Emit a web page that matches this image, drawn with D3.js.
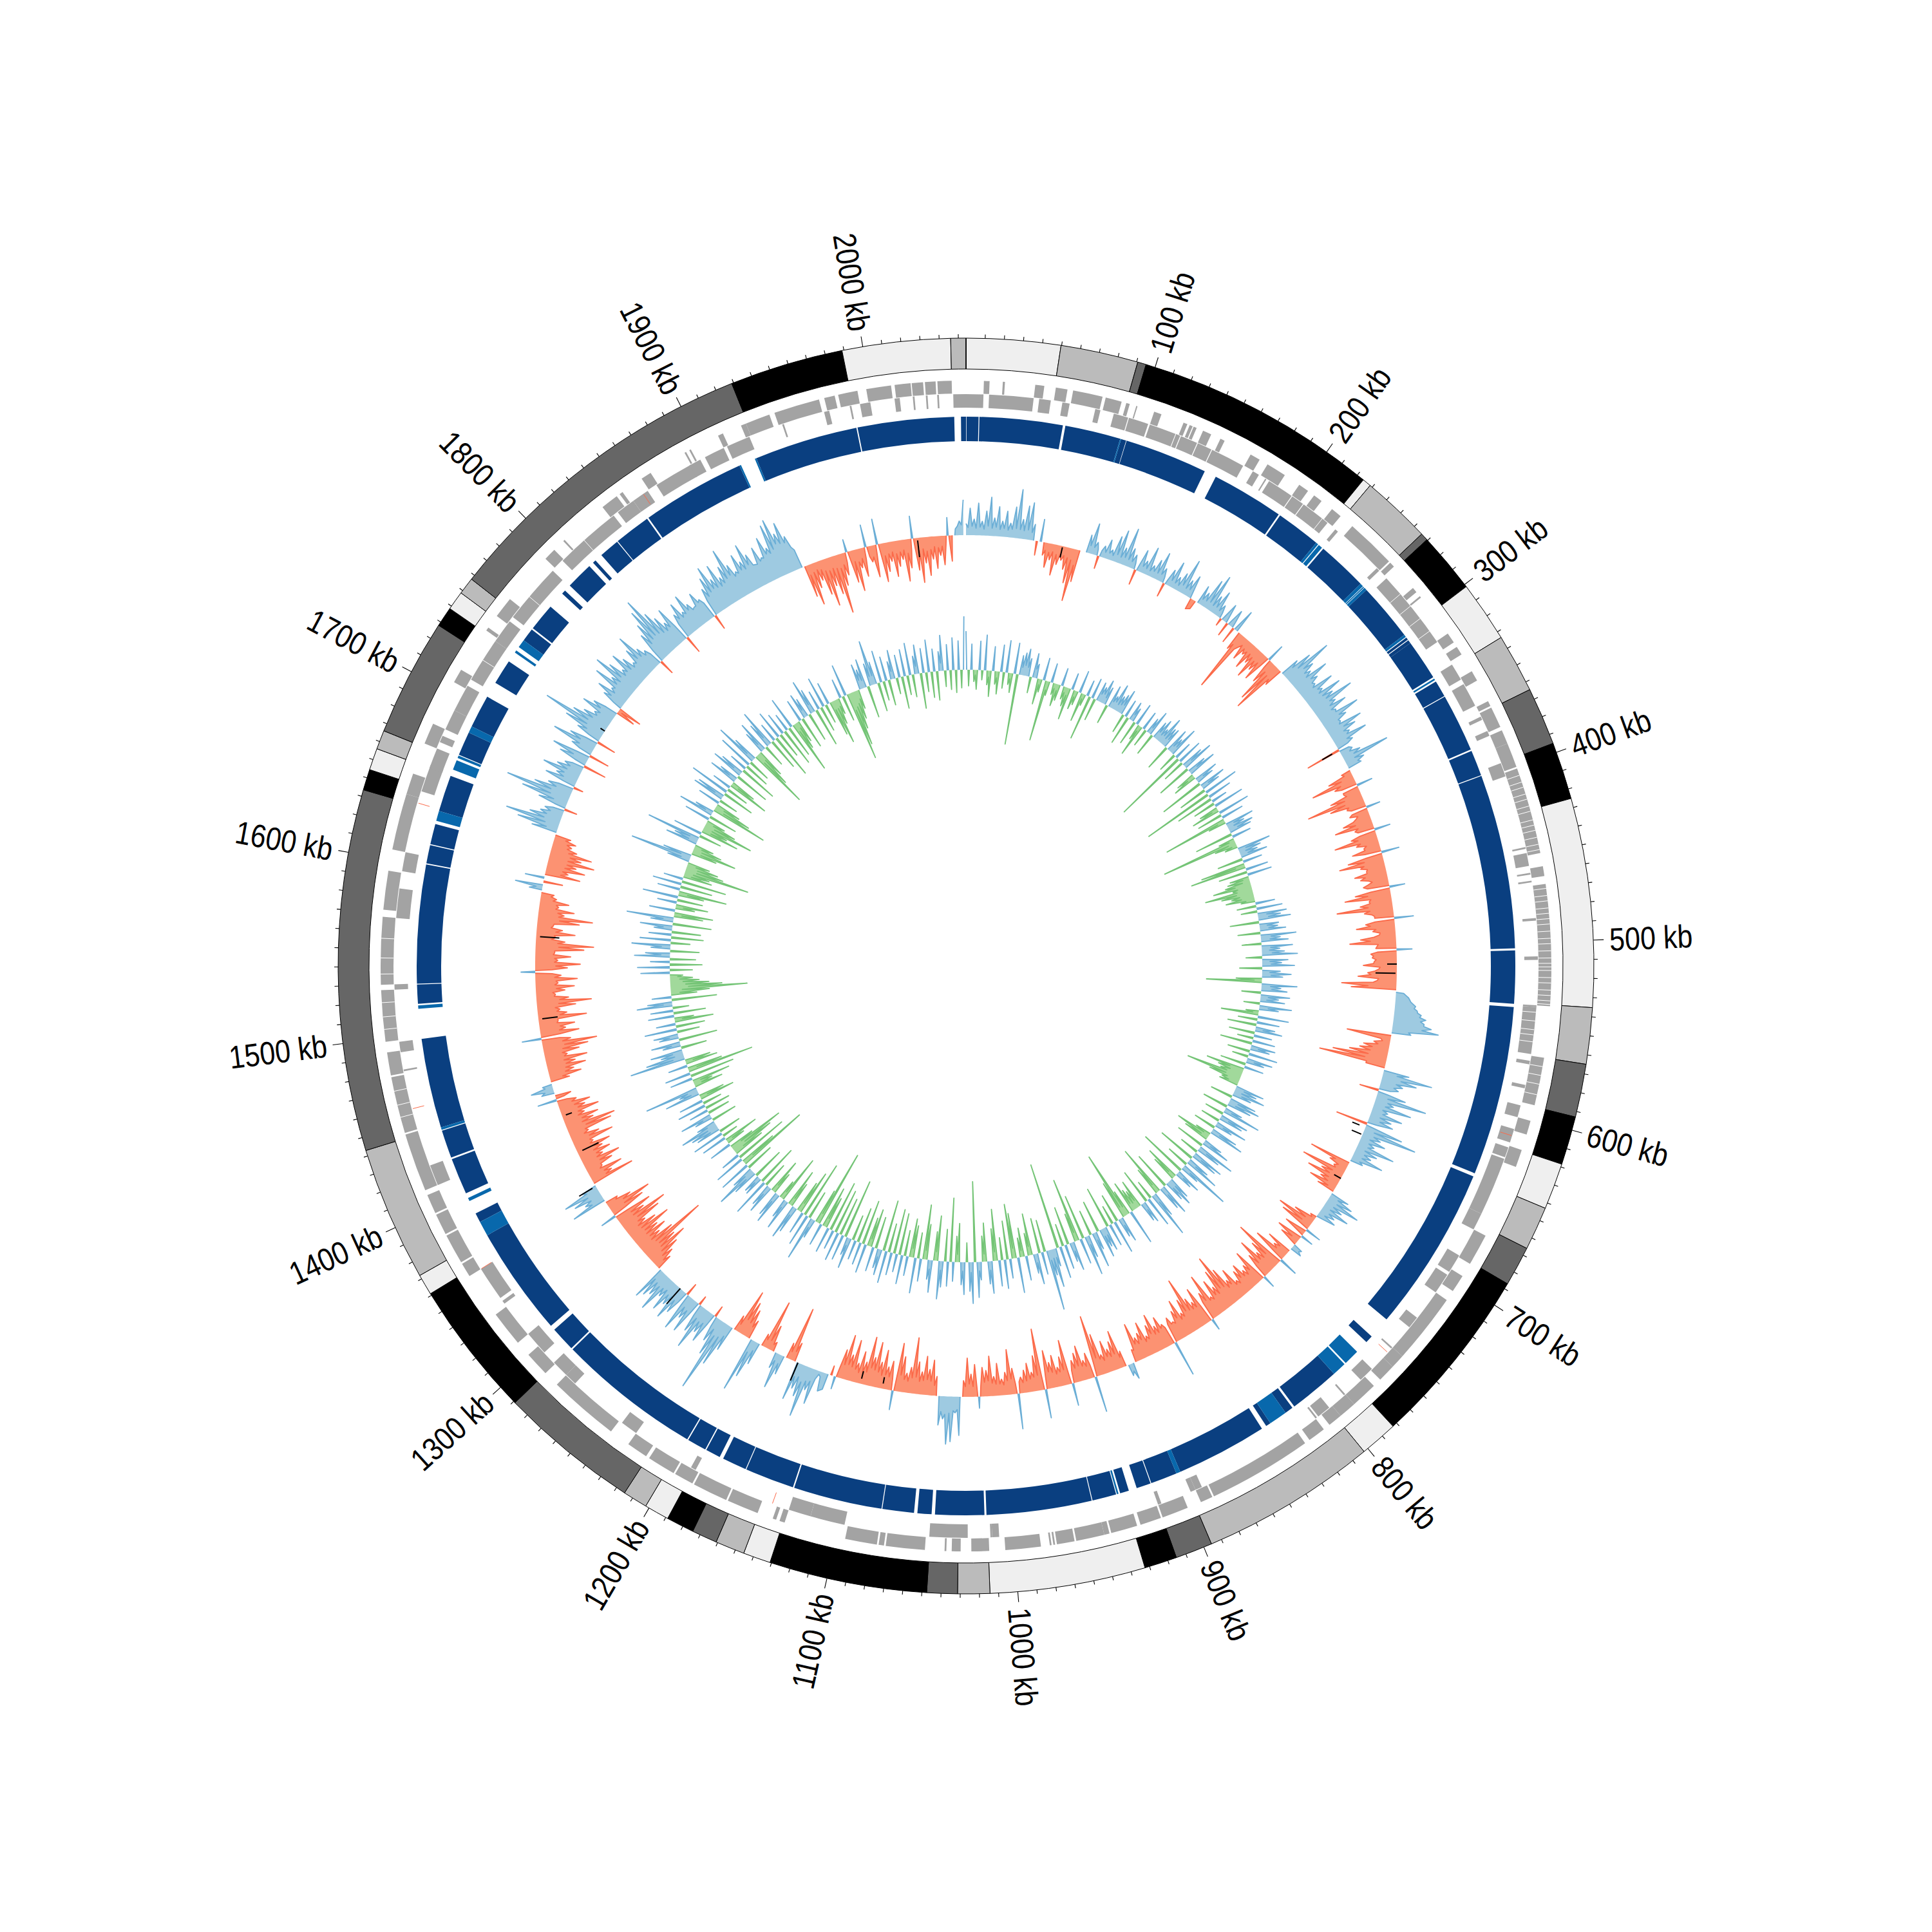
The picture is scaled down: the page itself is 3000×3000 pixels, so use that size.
<!DOCTYPE html>
<html><head><meta charset="utf-8">
<script src="https://cdn.jsdelivr.net/npm/d3@7"></script>
<style>html,body{margin:0;background:#fff}svg{display:block}</style></head>
<body><div id="c"></div>
<script>
const genomeKb = 2054;
const tickLabels = [100,200,300,400,500,600,700,800,900,1000,1100,1200,1300,1400,1500,1600,1700,1800,1900,2000];
// outer ideogram: band ends (kb), shades cycle through the band colours
const bandEnds = [49.7,90.6,95.1,224,228.6,265.5,269.5,301.4,333.5,364.5,395,425.2,535.2,564.9,592.9,618.5,643,666,687,782.5,802.5,895.7,915.3,932.5,1014.5,1031.4,1047.5,1130.8,1145.3,1160.8,1174.2,1188.9,1202,1215,1289,1361,1372,1443,1633.5,1644.5,1656,1666,1728,1738.5,1748.5,1757.5,1929,1989,2046,2054];
const bandShades = ["#efefef","#bbbbbb","#666666","#000000"];
const geneOuter = [[10,13.2],[20.6,21.8],[38.8,43.9],[50.4,57],[60.2,77],[78.8,88],[90.7,92.7],[96.5,97.2],[107,111.3],[124.5,126.8],[128.2,130],[130.6,132.4],[136.3,141.3],[147,149.6],[166,171.8],[176.9,188.3],[198,204],[208.2,213.4],[220.8,227],[235.6,264],[265,268],[284,287],[290,291],[316,322],[325,330],[341,347],[360,363],[364,376],[378,386],[386,400],[401,450],[457.5,463],[467.5,536],[565,592],[601,609],[618,628],[670,688],[696,706],[712,752],[752,760],[760,770],[775,790],[790,800],[800,808],[812,822],[825,884],[885,892],[900,915],[916,928],[930,945],[946,949],[949,965],[966,976],[977,978],[979,980],[985,1005],[1014,1024],[1030,1035],[1038,1039],[1050,1072],[1073,1076],[1077,1095],[1130,1133],[1135,1137],[1146,1164],[1165,1185],[1186,1197],[1198,1214],[1216,1228],[1240,1280],[1289,1303],[1312,1332],[1358,1366],[1367,1384],[1385,1397],[1398,1409],[1412,1445],[1446,1478],[1479,1492],[1498,1527],[1530,1568],[1572,1594],[1606,1638],[1638,1650],[1668,1680],[1706,1714],[1740,1742],[1750,1762],[1792,1799],[1806,1807],[1835,1845],[1847,1849],[1862,1868],[1890,1891],[1893,1894],[1911,1914],[1925,1928],[1928,1942],[1945,1971],[1974,1980],[1982,1993],[1998,2012],[2014,2023],[2023.6,2030],[2031,2037],[2038,2046]];
const geneInner = [[0,10],[13.2,38.8],[42,48.7],[55.4,59.6],[74.6,77.6],[85.5,94],[94.5,106],[107,122.6],[123,125.5],[126,136],[136.5,145],[145.5,165.4],[171.8,175.8],[180,180.8],[182.6,198],[198.5,206],[206.5,219.7],[220,223.7],[229.5,231.5],[262,264],[270,316.6],[332,342],[345,359],[366,368],[375,378],[395,403],[445,446],[448.5,456],[460,461],[464.5,465.5],[486,487.5],[508,510],[536,537],[537,564],[568,570],[582,584],[594,601],[608,616],[619,625],[626,660],[660,670],[687,698],[700,712],[730,737],[752,753],[769,778],[790,791],[802,810],[811,812],[888,892],[892,895],[913,915],[1008,1012],[1012,1013],[1026,1048],[1097,1117],[1117,1130],[1188,1191],[1228,1238],[1273,1280],[1280,1290],[1298,1312],[1334,1336],[1338,1358],[1412,1424],[1480,1481],[1491,1497],[1527,1530],[1568,1585],[1595,1606],[1642,1658],[1656,1668],[1672,1676],[1680,1692],[1692,1708],[1712,1738],[1738,1752],[1755,1790],[1798,1837],[1840,1851],[1851,1861],[1867,1890],[1889,1896],[1899,1911],[1913,1927],[1947,1948],[1972,1975],[1987,1988],[1993,1999],[2013,2016],[2023.5,2024.5],[2031,2032],[2037.5,2038.5],[2046.7,2054]];
const geneGapsOuter = [405,409,412,416,419,423,426,431,434,437,441,445,448,470,474,477,481,484,487,490,494,498,501,505,509,512,514,516,520,523,527,530,533,535,570,575,580,586,1455,1462,1470,1505,1512,1520,1536,1545,1556];
const geneGapsInner = [540,545,550,553,557,282,291,300,309,1725,1770,1815];
const geneRed = [1635,1358,1458,1858,756,612,1140];
// DNA ring: dark segments, then the lighter segments
const ringDark = [[0.3,7.5],[8,58],[59.5,93],[93.6,96.7],[97,147],[154.3,198],[199,226],[231.5,262],[267,302],[304,305.5],[306,308],[308,332.5],[335.5,345.5],[346,381],[382,397.5],[398,503],[504.2,536],[538,640],[642,742],[755.4,760],[787,817.6],[819,824],[835,838],[841,896],[898.5,914.5],[915,923.7],[928.6,934],[936.5,951],[951.5,1014.8],[1016,1045.5],[1047.5,1056],[1058,1077],[1077.5,1131],[1131.8,1161.5],[1162,1176.7],[1179,1188],[1188.7,1200.3],[1201,1288],[1289,1304],[1307,1373],[1382,1387.7],[1401,1423],[1424,1441],[1443,1497],[1518,1529.5],[1530,1601.3],[1602,1613],[1613.6,1626],[1634,1656],[1669.5,1684],[1688,1708],[1717.6,1732.6],[1748,1756],[1757,1773.6],[1784,1786.5],[1790.6,1807],[1810,1812],[1816.7,1829],[1829.5,1851.5],[1852.5,1915],[1926,1988.3],[1989,2047],[2051,2054]];
const ringLight = [[93,93.6],[226,227.5],[228,230.5],[262,264],[264.3,265],[265.3,267],[302,303.5],[333.5,334.5],[768,777.5],[778.5,787],[824,835],[896,898.5],[935,936],[1373,1382],[1396,1398],[1441.5,1443],[1515,1517],[1628,1634],[1660,1666],[1667.5,1669],[1684,1688],[1739,1740.5],[1743,1748],[1915,1916],[1925,1926]];
// first signal, one value per 3 kb (positive: blue, negative: red)
const signalA = [
18,42,25,50,22,38,60,28,46,24,
40,22,48,76,30,52,58,25,-22,35,
-20,-38,-25,-48,-30,-22,-35,-55,-82,-50,
0,28,48,20,-20,18,30,16,40,52,
26,60,30,22,-24,35,20,45,18,30,
45,22,-22,26,42,20,30,56,25,36,
-18,-14,30,22,48,60,28,40,20,-12,
30,-22,28,-26,36,-30,-99,-18,-35,-22,
-42,-28,-50,-32,-45,28,-40,-70,-84,-30,
30,50,80,45,35,60,38,28,55,32,
60,42,72,38,52,30,65,40,26,58,
44,30,55,28,-55,20,30,74,30,22,
-15,-40,-70,-35,25,-25,-50,-90,-55,-30,
22,-30,-22,-45,-60,-30,25,-40,-68,-35,
-25,-45,28,-55,-70,-38,-30,-50,-42,-25,
-40,24,-55,-72,-35,-50,-87,-45,-30,30,
-45,-60,-35,-25,-55,-72,-30,24,-40,-38,
-35,-52,-28,-45,-60,-30,-85,-70,12,20,
24,32,35,42,50,48,60,72,30,-69,
-15,-25,-40,-45,-60,-85,-105,-30,40,78,
55,35,30,-30,45,80,30,60,25,50,
35,40,-50,60,85,30,40,25,60,35,
28,50,20,-65,-30,-20,-70,-35,-55,-30,
-45,-28,30,40,55,30,45,25,30,-10,
-35,-60,-50,25,-35,20,-40,-30,15,18,
-40,-25,-55,30,-80,-50,-35,-62,-40,20,
-55,-35,-30,-45,-38,-25,-50,-35,-60,-87,
-65,-40,-55,-30,-72,-45,18,-60,-40,-50,
-87,-55,-35,-60,-45,-30,-40,56,-35,-50,
-38,-60,-45,-30,-55,-40,-35,-60,-20,25,
18,-25,-60,-45,-35,-50,-30,-65,-96,56,
-40,-30,-55,-45,-35,35,-70,-45,-30,-50,
-40,-60,45,-96,-55,-30,-45,-35,-25,55,
-40,-70,-35,-25,-50,-30,-62,-40,-45,18,
-50,-35,-60,-25,60,25,70,74,35,45,
-30,-55,-40,-60,-35,-50,-87,-40,-30,-55,
-75,30,-45,-35,-60,-40,-70,-45,-76,-35,
-50,-30,-65,-40,-70,-45,20,-15,25,30,
5,55,35,80,50,40,60,-30,-85,-25,
30,55,25,-15,-40,-78,-20,35,60,86,
-30,-45,-55,-71,-25,40,70,117,60,40,
-18,50,38,70,45,-15,55,35,60,-20,
40,55,35,50,30,61,38,45,54,-25,
-35,-50,-70,-55,-111,-60,-40,-55,-45,-70,
-50,-35,-65,-80,-45,-60,25,-55,-70,-40,
-20,55,30,45,58,25,-68,-35,-55,-25,
-45,-60,-35,-50,-40,-55,-30,-65,-45,-30,
-70,-78,-45,-55,-35,-60,-40,-50,-30,30,
-25,20,35,15,-30,-50,-40,-60,-45,-65,
-35,-55,-70,-85,-45,30,-60,-40,-55,-30,
-75,-45,-35,-60,-85,-50,-30,-45,-60,-35,
-65,-40,22,-50,-70,-35,-55,-30,-75,-90,
-45,-30,-60,-40,-25,-65,-85,-40,-55,-30,
-45,-25,-20,20,43,-30,30,-55,-35,-60,
-45,-72,-50,-65,-40,-30,-35,-25,40,65,
86,50,35,30,-20,45,75,103,60,40,
-15,50,35,60,40,30,-36,45,60,-32,
35,70,45,-30,40,65,105,60,45,30,
55,40,-30,-38,35,50,30,65,40,75,
55,35,60,45,30,50,70,40,30,-24,
50,65,85,101,70,55,40,60,-28,40,
55,35,60,40,30,50,35,-24,45,60,
75,50,70,45,60,85,55,40,65,50,
75,55,35,60,40,70,50,85,91,65,
80,55,30,-50,-65,-40,-30,-55,-75,-45,
-60,-92,-50,-35,20,-50,-65,-30,-45,35,
-25,-50,40,-60,-45,-30,-55,-40,-30,-65,
-45,35,-50,-70,-40,-60,-35,-50,-30,-45,
28,-40,10,22,55];
// first signal, troughs read half a bin after each value above
const signalATroughs = [
12,14,11,13,10,15,12,14,11,13,
11,13,15,14,13,15,12,0,0,0,
-12,-14,-12,-15,-13,-14,-16,-18,-25,0,
0,12,11,10,10,9,10,8,12,10,
12,11,10,9,10,10,9,8,10,10,
11,9,8,10,9,8,12,10,11,9,
0,0,9,10,12,10,11,9,8,8,
8,8,8,8,0,-20,-25,-12,-14,-15,
-14,-16,-18,-16,-15,-15,-18,-20,-22,0,
18,24,30,26,24,28,25,22,26,24,
26,28,30,26,24,28,30,24,22,26,
22,24,20,18,16,14,18,16,18,0,
-12,-20,-24,-25,-25,-22,-28,-30,-26,-24,
-25,-18,-28,-26,-24,-26,-25,-30,-28,-20,
-24,-26,-25,-30,-32,-28,-30,-34,-30,-32,
-34,-30,-36,-32,-34,-38,-36,-34,-30,-30,
-38,-30,-24,-34,-40,-28,-32,-30,-36,-32,
-36,-26,-34,-40,-28,-36,-44,0,16,22,
28,30,36,40,42,48,46,26,0,0,
-12,-18,-26,-28,-30,-34,-30,0,22,30,
24,22,18,16,18,20,18,16,18,16,
18,15,14,16,18,14,15,16,14,16,
15,14,0,-22,-14,-16,-18,-20,-18,-16,
-12,0,14,16,14,12,14,10,9,-6,
-14,-16,-12,-10,-8,-10,-12,-8,12,0,
-16,-18,-18,-18,-24,-22,-24,-22,-20,-18,
-24,-20,-22,-24,-18,-20,-26,-24,-30,-32,
-26,-28,-24,-26,-30,-30,-28,-30,-30,-32,
-34,-28,-26,-32,-26,-28,-30,-28,-30,-26,
-26,-30,-24,-22,-28,-24,-26,-18,0,12,
0,-16,-24,-22,-24,-20,-24,-28,-20,-20,
-20,-22,-24,-22,-20,-18,-24,-22,-20,-24,
-26,-20,-22,-24,-22,-20,-18,-16,-18,-16,
-24,-22,-16,-18,-18,-20,-24,-22,-16,-14,
-16,-20,-16,0,20,22,26,28,24,0,
-16,-22,-24,-22,-20,-26,-24,-18,-20,-26,
-22,-18,-20,-22,-20,-24,-26,-28,-20,-18,
-16,-20,-22,-24,-22,-14,0,0,0,8,
14,20,22,26,20,22,0,-15,-12,0,
14,12,0,-10,-14,-12,0,14,20,0,
-18,-22,-24,-12,0,18,24,26,18,16,
16,20,22,20,18,16,20,18,18,18,
20,18,20,16,18,20,18,16,0,-14,
-18,-22,-26,-28,-26,-22,-24,-22,-24,-22,
-20,-24,-28,-24,-24,-22,-22,-24,-26,-16,
0,20,18,20,18,0,-24,-24,-20,-24,
-26,-24,-26,-24,-28,-24,-26,-28,-22,-26,
-30,-26,-28,-24,-26,-28,-24,-22,-16,-14,
0,14,12,0,-20,-26,-28,-30,-28,-30,
-28,-30,-34,-32,-28,-30,-30,-32,-28,-30,
-34,-30,-28,-34,-36,-28,-26,-32,-30,-32,
-30,-26,-26,-32,-30,-30,-28,-30,-36,-34,
-24,-28,-30,-22,-26,-34,-32,-30,-26,-26,
-20,-16,0,10,0,0,0,-24,-26,-28,
-30,-30,-32,-28,-24,-22,-18,0,18,22,
26,24,20,18,18,22,30,32,26,24,
20,22,24,22,20,18,18,24,20,20,
24,26,20,18,26,30,32,28,24,22,
26,20,-6,14,24,22,26,28,26,30,
26,28,26,24,26,30,28,24,20,22,
30,34,36,34,30,28,30,26,24,30,
28,30,32,28,30,32,26,26,30,34,
36,34,32,34,38,40,34,36,38,36,
40,36,34,36,38,42,40,44,50,48,
46,36,0,-16,-14,-12,-14,-18,-20,-18,
-20,-22,-18,-16,-14,-18,-20,-16,-18,-16,
-18,-16,-16,-20,-18,-16,-20,-18,-16,-22,
-18,-16,-20,-18,-22,-20,-16,-18,-16,-14,
-12,0,14,16,0];
// short black marks in the first signal: kb, near value, far value
const marksKb = [74,342,512,519,639,645,682,1091,1108,1158,1264,1365,1394,1424,1500,1563,1729,2017];
const marksFrom = [-2,-12,0,-2,-10,-2,0,-8,-8,0,0,6,-8,-6,-6,-6,0,-4];
const marksTo = [-18,-30,-15,-33,-22,-18,-12,-18,-20,30,32,30,-36,-16,-30,-36,8,-30];
// second signal, one value per 3 kb (positive: blue, negative: green)
const signalB = [
60,-25,40,-18,-30,45,-15,55,-22,-40,
38,-20,-35,42,-25,50,-18,-30,48,-110,
30,35,42,28,-25,38,22,-40,-20,35,
-95,-22,30,-18,-35,-25,28,-20,-30,-50,
26,-30,-22,35,-45,-18,25,-70,32,-35,
30,24,38,28,-30,35,20,42,25,30,
40,-30,28,-45,30,22,-38,35,-25,-50,
30,-28,25,40,-35,28,35,22,45,30,
32,-40,38,25,48,-30,28,-117,40,-35,
35,50,-55,30,45,-30,-38,38,28,-70,
42,30,-45,55,-112,38,-60,25,-35,48,
-30,-45,50,-40,35,-101,-28,45,28,40,
35,-60,30,-25,-120,-35,-20,52,35,28,
42,-40,30,-70,-88,35,-45,38,-30,-35,
-40,-60,-30,-75,-50,-35,-45,-22,30,-30,
40,-25,45,35,50,-45,30,28,40,-35,
55,30,42,-30,48,28,35,55,-25,40,
30,50,-35,28,45,32,-40,-86,55,30,
40,-30,45,28,38,-25,50,30,-20,-58,
48,-30,35,-45,30,42,-40,28,-25,35,
-50,38,30,-35,45,-25,40,28,-40,30,
-60,-40,-35,-88,-50,-28,-30,45,35,50,
30,-35,42,50,38,-40,28,60,-30,45,
38,-30,50,28,-35,42,55,-25,-56,-40,
30,45,-45,60,38,-30,50,42,-60,35,
55,-35,81,30,-75,40,28,-55,-40,35,
45,32,-60,50,38,-80,-45,40,73,-30,
48,-55,35,30,-45,-30,-35,-50,55,-40,
-107,-60,40,30,-45,52,-30,35,-65,38,
30,45,-50,28,55,-40,35,62,-70,40,
-100,-45,45,30,-60,38,-35,50,-135,28,
60,40,94,-50,35,-55,48,30,-65,-35,
38,-45,-30,55,-70,-85,30,-60,45,-35,
40,-80,-50,50,35,-60,-40,28,55,-125,
64,45,-30,50,35,-60,-40,30,-99,38,
-50,40,59,-70,-45,50,30,-55,-85,35,
-40,55,-50,-60,30,-40,45,-65,28,-70,
35,-45,50,-80,40,30,-50,38,-60,-45,
45,-70,35,-55,30,-40,48,28,-93,40,
-60,45,-70,30,-80,40,-50,-65,35,-121,
-55,30,69,-45,50,-90,35,-70,-50,42,
55,-40,-60,48,30,-75,-30,50,40,-35,
-55,45,35,-40,60,-65,30,28,-50,40,
67,35,-45,50,-113,-60,48,-85,30,-50,
-70,-90,-40,35,-30,-55,40,-25,50,-35,
38,45,60,30,-40,28,50,-35,30,-40,
45,-30,38,-55,-40,55,30,84,-45,-30,
-60,35,-70,40,-104,-55,30,-50,-40,87,
60,35,50,-40,28,45,-60,30,38,-35,
50,-45,30,-60,-30,40,-50,35,-25,55,
38,-70,30,-40,-60,-119,-80,-60,-45,-35,
-20,45,-35,50,-50,30,-40,55,38,-45,
30,60,-30,48,-50,35,-45,28,50,-60,
35,73,-45,-60,40,-30,-50,30,-40,55,
-40,-75,35,-50,45,-70,30,-45,-40,-102,
-60,-50,-35,35,96,45,-40,-70,-45,-30,
50,38,85,-35,45,-60,-40,-80,-50,-30,
40,-45,55,30,-89,-60,-40,35,-30,50,
45,-50,63,-35,30,-65,-40,45,30,-55,
50,38,-60,28,-40,55,-35,68,40,-94,
-60,-45,35,50,-35,40,60,-50,30,-70,
45,-40,35,-60,28,-50,50,-82,-45,-35,
35,-50,40,30,-45,55,38,-60,30,-40,
48,-30,35,-55,-70,-40,-25,30,-40,50,
-107,-85,-60,-45,-30,40,30,45,-50,35,
70,35,-45,50,-30,38,-40,28,45,-25,
35,-50,42,-30,50,-35,28,45,-55,38,
-30,50,-40,35,-45,30,55,-25,40,-30,
50,-35,45,-28,83];
// second signal, troughs half a bin after each value (0: none read)
const signalBTroughs = [
0,0,0,-8,0,0,0,0,-10,0,
0,-10,0,0,0,0,-9,0,0,0,
12,16,14,0,0,14,0,-9,0,0,
-14,0,0,-8,-10,0,0,-9,-12,0,
0,-10,0,0,-8,0,0,0,0,0,
12,14,10,0,0,10,12,10,12,14,
0,0,0,0,10,0,0,0,-9,0,
0,0,10,0,0,12,10,12,10,12,
0,0,10,12,0,0,0,0,0,0,
14,0,0,14,0,-12,0,12,0,0,
12,0,0,0,0,0,0,0,0,0,
-10,0,0,0,0,-12,0,12,10,14,
0,0,0,-9,-12,-8,0,12,10,12,
0,0,0,-15,0,0,0,0,-10,-12,
-25,-22,-24,-26,-22,-20,-14,0,0,0,
0,0,14,16,0,0,12,14,0,0,
16,14,0,0,14,12,16,0,0,12,
14,0,0,12,14,0,-12,0,14,16,
0,0,12,10,0,0,14,0,-9,0,
0,0,0,0,12,0,0,0,0,0,
0,12,0,0,0,0,12,0,0,0,
-22,-20,-24,-24,-20,-16,0,14,12,14,
0,0,14,12,0,0,12,0,0,14,
0,0,12,0,0,14,0,-10,-12,0,
12,0,0,14,0,0,14,0,0,14,
0,0,14,0,0,12,0,-12,0,12,
12,0,0,14,0,-14,0,14,0,0,
0,0,12,0,-12,-10,-12,0,0,-14,
-16,0,12,0,0,0,0,0,0,12,
12,0,0,12,0,0,14,0,0,0,
-14,0,14,0,0,0,0,0,0,14,
14,16,0,0,0,0,14,0,-14,0,
0,-10,0,0,-16,0,0,0,0,0,
0,-14,0,14,0,-12,0,14,0,0,
16,0,0,14,0,-12,0,0,0,0,
0,14,0,-14,0,14,0,-14,0,0,
0,0,-14,0,0,0,0,0,0,0,
0,0,0,0,12,0,0,0,-12,0,
0,0,0,0,0,0,12,0,0,0,
0,0,0,0,0,0,-14,0,0,-16,
0,14,0,0,0,0,0,-14,0,14,
0,-12,0,12,0,-12,0,14,0,-12,
0,14,0,0,0,0,10,0,0,16,
14,0,0,0,-18,0,0,0,0,-16,
-22,-18,0,0,-10,0,0,0,0,0,
14,16,14,0,0,14,0,0,0,0,
0,0,0,-12,0,12,16,0,-12,-12,
0,0,0,0,-14,0,0,-12,0,18,
14,16,0,0,14,0,0,14,0,0,
0,0,0,-12,0,0,0,0,0,14,
0,0,0,-14,-18,-28,-24,-20,-15,-12,
0,0,0,0,0,0,0,14,0,0,
14,0,0,0,0,0,0,14,0,0,
16,0,-12,0,0,-12,0,0,0,0,
-14,0,0,0,0,0,0,-12,-14,-18,
-18,-14,0,14,16,0,-14,-14,-12,0,
14,14,0,0,0,-14,-14,-16,-12,0,
0,0,12,0,-16,-14,0,0,0,14,
0,0,0,0,0,-12,0,12,0,0,
14,0,0,0,0,0,0,14,0,-16,
-14,0,12,0,0,14,0,0,0,0,
0,0,0,0,0,0,0,-14,-10,0,
0,0,12,0,0,14,0,0,0,0,
0,0,0,-14,-14,-12,0,0,0,0,
-28,-24,-20,-14,0,14,12,0,0,14,
14,0,0,0,0,0,0,12,0,0,
0,0,0,0,0,0,12,0,0,0,
0,0,0,0,0,12,0,0,0,0,
0,0,0,0,0];

const binKb = 3, size = 3000, c = size / 2;
const TAU = 2 * Math.PI;
const angle = d3.scaleLinear().domain([0, genomeKb]).range([0, TAU]);
const rA = d3.scaleLinear().domain([0, 100]).range([669, 769]);
const rB = d3.scaleLinear().domain([0, 100]).range([460, 560]);
const svg = d3.select("#c").append("svg").attr("width", size).attr("height", size).attr("viewBox", [0, 0, size, size]);
const g = svg.append("g").attr("transform", `translate(${c},${c})`);
const arc = d3.arc();
const seg = (s, e, r0, r1) => arc({startAngle: angle(s), endAngle: angle(e), innerRadius: r0, outerRadius: r1});
const px = (kb, r) => r * Math.sin(angle(kb));
const py = (kb, r) => -r * Math.cos(angle(kb));

// ideogram
const bands = bandEnds.map((e, i) => ({s: i ? bandEnds[i - 1] : 0, e, fill: bandShades[i % 4]}));
g.append("g").selectAll("path").data(bands).join("path")
  .attr("d", d => seg(d.s, d.e, 927, 975)).attr("fill", d => d.fill).attr("stroke", "#000").attr("stroke-width", 1);
g.append("line").attr("x1", px(0, 927)).attr("y1", py(0, 927)).attr("x2", px(0, 975)).attr("y2", py(0, 975)).attr("stroke", "#000").attr("stroke-width", 1.6);

// ticks and labels
const minor = d3.range(10, genomeKb, 10);
g.append("g").selectAll("line").data(minor).join("line")
  .attr("x1", d => px(d, 975)).attr("y1", d => py(d, 975))
  .attr("x2", d => px(d, d % 100 === 0 ? 991 : 981)).attr("y2", d => py(d, d % 100 === 0 ? 991 : 981))
  .attr("stroke", "#000").attr("stroke-width", 1.1);
g.append("g").selectAll("text").data(tickLabels).join("text")
  .text(d => `${d} kb`)
  .attr("font-family", "'Liberation Sans Narrow','Liberation Sans',sans-serif").attr("font-size", 50).attr("fill", "#000")
  .attr("text-anchor", d => d <= genomeKb / 2 ? "start" : "end").attr("dy", "0.35em")
  .attr("transform", d => {
    const deg = angle(d) * 180 / Math.PI;
    const rot = d <= genomeKb / 2 ? deg - 90 : deg + 90;
    return `translate(${px(d, 1000)},${py(d, 1000)}) rotate(${rot}) scale(0.86,1)`;
  });

// genes
const genes = g.append("g").attr("fill", "#a3a3a3");
genes.selectAll(".o").data(geneOuter).join("path").attr("class", "o").attr("d", d => seg(d[0], d[1], 889, 909));
genes.selectAll(".i").data(geneInner).join("path").attr("class", "i").attr("d", d => seg(d[0], d[1], 867, 888));
const hair = g.append("g").attr("stroke-width", 1);
hair.selectAll(".a").data(geneGapsOuter).join("line").attr("class", "a").attr("stroke", "#fff")
  .attr("x1", d => px(d, 889)).attr("y1", d => py(d, 889)).attr("x2", d => px(d, 909)).attr("y2", d => py(d, 909));
hair.selectAll(".b").data(geneGapsInner).join("line").attr("class", "b").attr("stroke", "#fff")
  .attr("x1", d => px(d, 867)).attr("y1", d => py(d, 867)).attr("x2", d => px(d, 888)).attr("y2", d => py(d, 888));
hair.selectAll(".c").data(geneRed).join("line").attr("class", "c").attr("stroke", "#fb6a4a")
  .attr("x1", d => px(d, 869)).attr("y1", d => py(d, 869)).attr("x2", d => px(d, 887)).attr("y2", d => py(d, 887));

// DNA ring
g.append("g").attr("fill", "#0a3f80").selectAll("path").data(ringDark).join("path").attr("d", d => seg(d[0], d[1], 815, 853));
g.append("g").attr("fill", "#0868ac").selectAll("path").data(ringLight).join("path").attr("d", d => seg(d[0], d[1], 815, 853));

// signals: values and troughs merged; at a sign change the baseline is met
// close to each side, with a break between, so single spikes stay narrow
function series(values, troughs, pinch) {
  const seq = [];
  values.forEach((v, i) => {
    if (v) seq.push({kb: i * binKb, v});
    if (troughs[i]) seq.push({kb: (i + 0.5) * binKb, v: troughs[i]});
  });
  const out = [];
  seq.forEach((p, j) => {
    out.push(p);
    const q = seq[j + 1];
    if (q && p.v * q.v < 0) {
      const d = Math.min(pinch, (q.kb - p.kb) / 2.5);
      out.push({kb: p.kb + d, v: 0}, {brk: true}, {kb: q.kb - d, v: 0});
    }
  });
  return out;
}
function drawSignal(pts, rScale, sign, fill, stroke) {
  const on = d => !d.brk && sign * d.v >= 0;
  const area = d3.areaRadial().defined(on).angle(d => angle(d.kb)).innerRadius(rScale(0)).outerRadius(d => rScale(d.v));
  const line = d3.lineRadial().defined(on).angle(d => angle(d.kb)).radius(d => rScale(d.v));
  g.append("path").attr("d", area(pts)).attr("fill", fill);
  g.append("path").attr("d", line(pts)).attr("fill", "none").attr("stroke", stroke).attr("stroke-width", 1.8).attr("stroke-linejoin", "round");
}
const ptsA = series(signalA, signalATroughs, 0.5);
const ptsB = series(signalB, signalBTroughs, 0.8);
drawSignal(ptsA, rA, -1, "#fc9272", "#fb6a4a");
drawSignal(ptsA, rA, 1, "#9ecae1", "#6baed6");
drawSignal(ptsB, rB, -1, "#a1d99b", "#74c476");
drawSignal(ptsB, rB, 1, "#9ecae1", "#6baed6");

g.append("g").selectAll("line").data(marksKb).join("line")
  .attr("x1", (d, i) => px(d, rA(marksFrom[i]))).attr("y1", (d, i) => py(d, rA(marksFrom[i])))
  .attr("x2", (d, i) => px(d, rA(marksTo[i]))).attr("y2", (d, i) => py(d, rA(marksTo[i])))
  .attr("stroke", "#000").attr("stroke-width", 2);
</script></body></html>
